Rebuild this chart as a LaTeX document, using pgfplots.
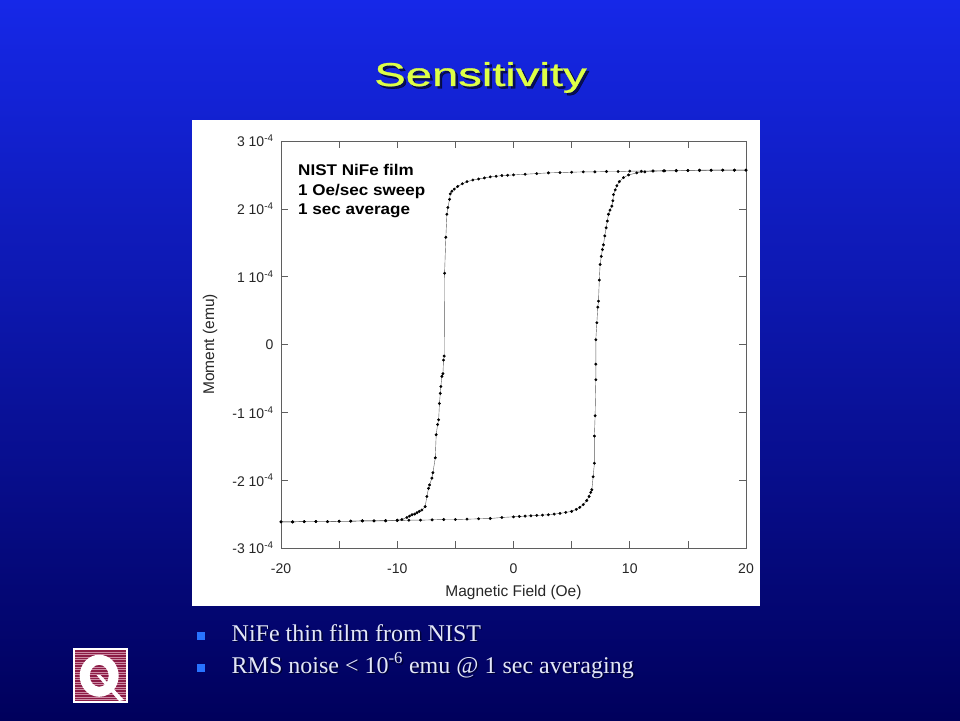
\documentclass[border=0pt]{standalone}
\usepackage{pgfplots}
\pgfplotsset{compat=1.18}
\usepackage{fontspec}
\setmainfont{Liberation Sans}
\newfontfamily\serif{Liberation Serif}
\newfontfamily\titlefont[FakeBold=0.8]{Liberation Sans}

\definecolor{bgtop}{RGB}{22,40,232}
\definecolor{bgbot}{RGB}{0,0,92}
\definecolor{titlecol}{RGB}{222,255,70}
\definecolor{bulletcol}{RGB}{40,115,255}
\definecolor{bultext}{RGB}{226,230,248}
\definecolor{qred}{RGB}{140,28,70}
\definecolor{qstripe}{RGB}{205,140,165}
\definecolor{axcol}{RGB}{95,95,95}

% descending branch (+20 -> -20), moment in units of 1e-4 emu
\pgfplotstableread{
h m
20 2.57
19 2.57
18 2.57
17 2.57
16 2.565
15 2.565
14 2.56
13 2.56
12 2.56
11 2.555
10 2.555
9 2.55
8 2.55
7 2.545
6 2.545
5 2.54
4 2.535
3 2.53
2 2.52
1 2.51
0 2.50
-0.5 2.495
-1 2.49
-1.5 2.48
-2 2.47
-2.5 2.455
-3 2.44
-3.5 2.425
-4 2.40
-4.4 2.37
-4.8 2.33
-5.1 2.29
-5.3 2.26
-5.44 2.22
-5.5 2.14
-5.64 2.02
-5.73 1.92
-5.82 1.58
-5.93 1.05
-5.96 -0.17
-6.02 -0.23
-6.07 -0.43
-6.16 -0.47
-6.25 -0.62
-6.30 -0.72
-6.37 -0.87
-6.44 -1.11
-6.53 -1.18
-6.65 -1.33
-6.73 -1.67
-6.93 -1.89
-7.02 -1.97
-7.22 -2.07
-7.31 -2.12
-7.45 -2.24
-7.60 -2.39
-7.88 -2.44
-8.1 -2.46
-8.3 -2.48
-8.5 -2.50
-8.73 -2.51
-8.95 -2.53
-9.17 -2.55
-9.6 -2.58
-10 -2.59
-11 -2.595
-12 -2.60
-13 -2.60
-14 -2.605
-15 -2.605
-16 -2.61
-17 -2.61
-18 -2.61
-19 -2.615
-20 -2.615
}\down

% ascending branch (-20 -> +20)
\pgfplotstableread{
h m
-20 -2.615
-19 -2.615
-18 -2.61
-17 -2.61
-16 -2.61
-15 -2.605
-14 -2.605
-13 -2.60
-12 -2.60
-11 -2.60
-10 -2.595
-9 -2.59
-8 -2.59
-7 -2.585
-6 -2.58
-5 -2.58
-4 -2.575
-3 -2.57
-2 -2.565
-1 -2.55
0 -2.54
0.5 -2.535
1 -2.53
1.5 -2.525
2 -2.52
2.5 -2.515
3 -2.51
3.5 -2.50
4 -2.49
4.5 -2.475
5 -2.46
5.4 -2.43
5.7 -2.40
6.0 -2.36
6.3 -2.30
6.5 -2.24
6.65 -2.18
6.74 -2.14
6.85 -1.95
6.96 -1.75
6.96 -1.35
7.02 -1.05
7.08 -0.52
7.08 -0.29
7.08 0.07
7.17 0.32
7.25 0.55
7.31 0.64
7.38 0.95
7.45 1.18
7.55 1.30
7.65 1.40
7.74 1.47
7.85 1.60
7.97 1.72
8.07 1.82
8.17 1.92
8.30 1.98
8.46 2.04
8.55 2.12
8.60 2.21
8.75 2.28
8.89 2.34
9.10 2.40
9.46 2.46
9.9 2.50
10.6 2.53
11.3 2.545
12 2.555
12.9 2.56
14 2.565
15 2.565
16 2.57
17 2.57
18 2.57
19 2.57
20 2.57
}\up

\begin{document}
\begin{tikzpicture}[x=1pt,y=1pt]
\useasboundingbox (0,0) rectangle (960,720);
\shade[top color=bgtop, bottom color=bgbot] (0,0) rectangle (960,720);

% title
\node[text=black, opacity=0.6, xscale=1.43, anchor=base] at (483,631.5)
  {\titlefont\fontsize{33}{38}\selectfont Sensitivity};
\node[text=titlecol, xscale=1.43, anchor=base] at (480.5,634)
  {\titlefont\fontsize{33}{38}\selectfont Sensitivity};

% white panel
\fill[white] (192,114) rectangle (760,600);

\begin{axis}[
  at={(281pt,172pt)}, anchor=south west,
  width=465pt, height=407pt, scale only axis,
  xmin=-20, xmax=20, ymin=-3, ymax=3,
  xtick={-20,-10,...,20},
  minor xtick={-15,-5,5,15},
  xticklabels={-20,-10,0,10,20},
  ytick={-3,-2,...,3},
  yticklabels={-3 10\textsuperscript{-4},-2 10\textsuperscript{-4},-1 10\textsuperscript{-4},0,1 10\textsuperscript{-4},2 10\textsuperscript{-4},3 10\textsuperscript{-4}},
  tick pos=both, xticklabel pos=lower, yticklabel pos=left,
  tick align=inside,
  major tick length=7pt, minor tick length=7pt,
  tick style={axcol, line width=0.6pt},
  axis line style={axcol, line width=0.6pt},
  ticklabel style={font=\fontsize{14}{16}\selectfont, text=black!85},
  xticklabel style={yshift=-12pt},
  yticklabel style={xshift=-4pt},
  xlabel={Magnetic Field (Oe)},
  ylabel={Moment (emu)},
  every axis x label/.style={at={(rel axis cs:0.5,0)}, yshift=-44pt, anchor=center,
    font=\fontsize{15.5}{18}\selectfont, text=black!85},
  every axis y label/.style={at={(rel axis cs:0,0.5)}, xshift=-71pt, rotate=90, anchor=center,
    font=\fontsize{15.5}{18}\selectfont, text=black!85},
]
\addplot[gray!70!black, line width=0.4pt, mark=*, mark size=1.25pt,
  mark options={black, fill=black}] table[x=h, y=m] {\down};
\addplot[gray!70!black, line width=0.4pt, mark=*, mark size=1.25pt,
  mark options={black, fill=black}] table[x=h, y=m] {\up};
\end{axis}

% annotation
\begin{scope}[every node/.style={anchor=base west, xscale=1.1, inner sep=0pt,
    font=\fontsize{15.5}{18}\selectfont\bfseries}]
\node at (298,544) {NIST NiFe film};
\node at (298,524.5) {1 Oe/sec sweep};
\node at (298,505) {1 sec average};
\end{scope}

% bullets
\fill[bulletcol] (197,80) rectangle (205,88);
\fill[bulletcol] (197,48) rectangle (205,56);
\begin{scope}[every node/.style={anchor=base west, inner sep=0pt,
    font=\serif\fontsize{24}{28}\selectfont}]
\node[text=black, opacity=0.5] at (233,77.5) {NiFe thin film from NIST};
\node[text=bultext] at (231.5,79) {NiFe thin film from NIST};
\node[text=black, opacity=0.5] at (233,45.5) {RMS noise < 10\textsuperscript{-6} emu @ 1 sec averaging};
\node[text=bultext] at (231.5,47) {RMS noise < 10\textsuperscript{-6} emu @ 1 sec averaging};
\end{scope}

% logo
\fill[white] (72.7,16.7) rectangle (127.7,72);
\fill[qred] (74.7,18.7) rectangle (125.7,70);
\foreach \yy in {20.5,23,...,69} \draw[qstripe, line width=0.6pt] (74.7,\yy) -- (125.7,\yy);
\fill[white, even odd rule] (99.2,44.2) ellipse[x radius=19.5, y radius=21]
  (99.2,44.2) ellipse[x radius=9.5, y radius=11];
\fill[white] (96.5,45) -- (100.5,45) -- (124,20) -- (119,19) -- cycle;
\end{tikzpicture}
\end{document}
